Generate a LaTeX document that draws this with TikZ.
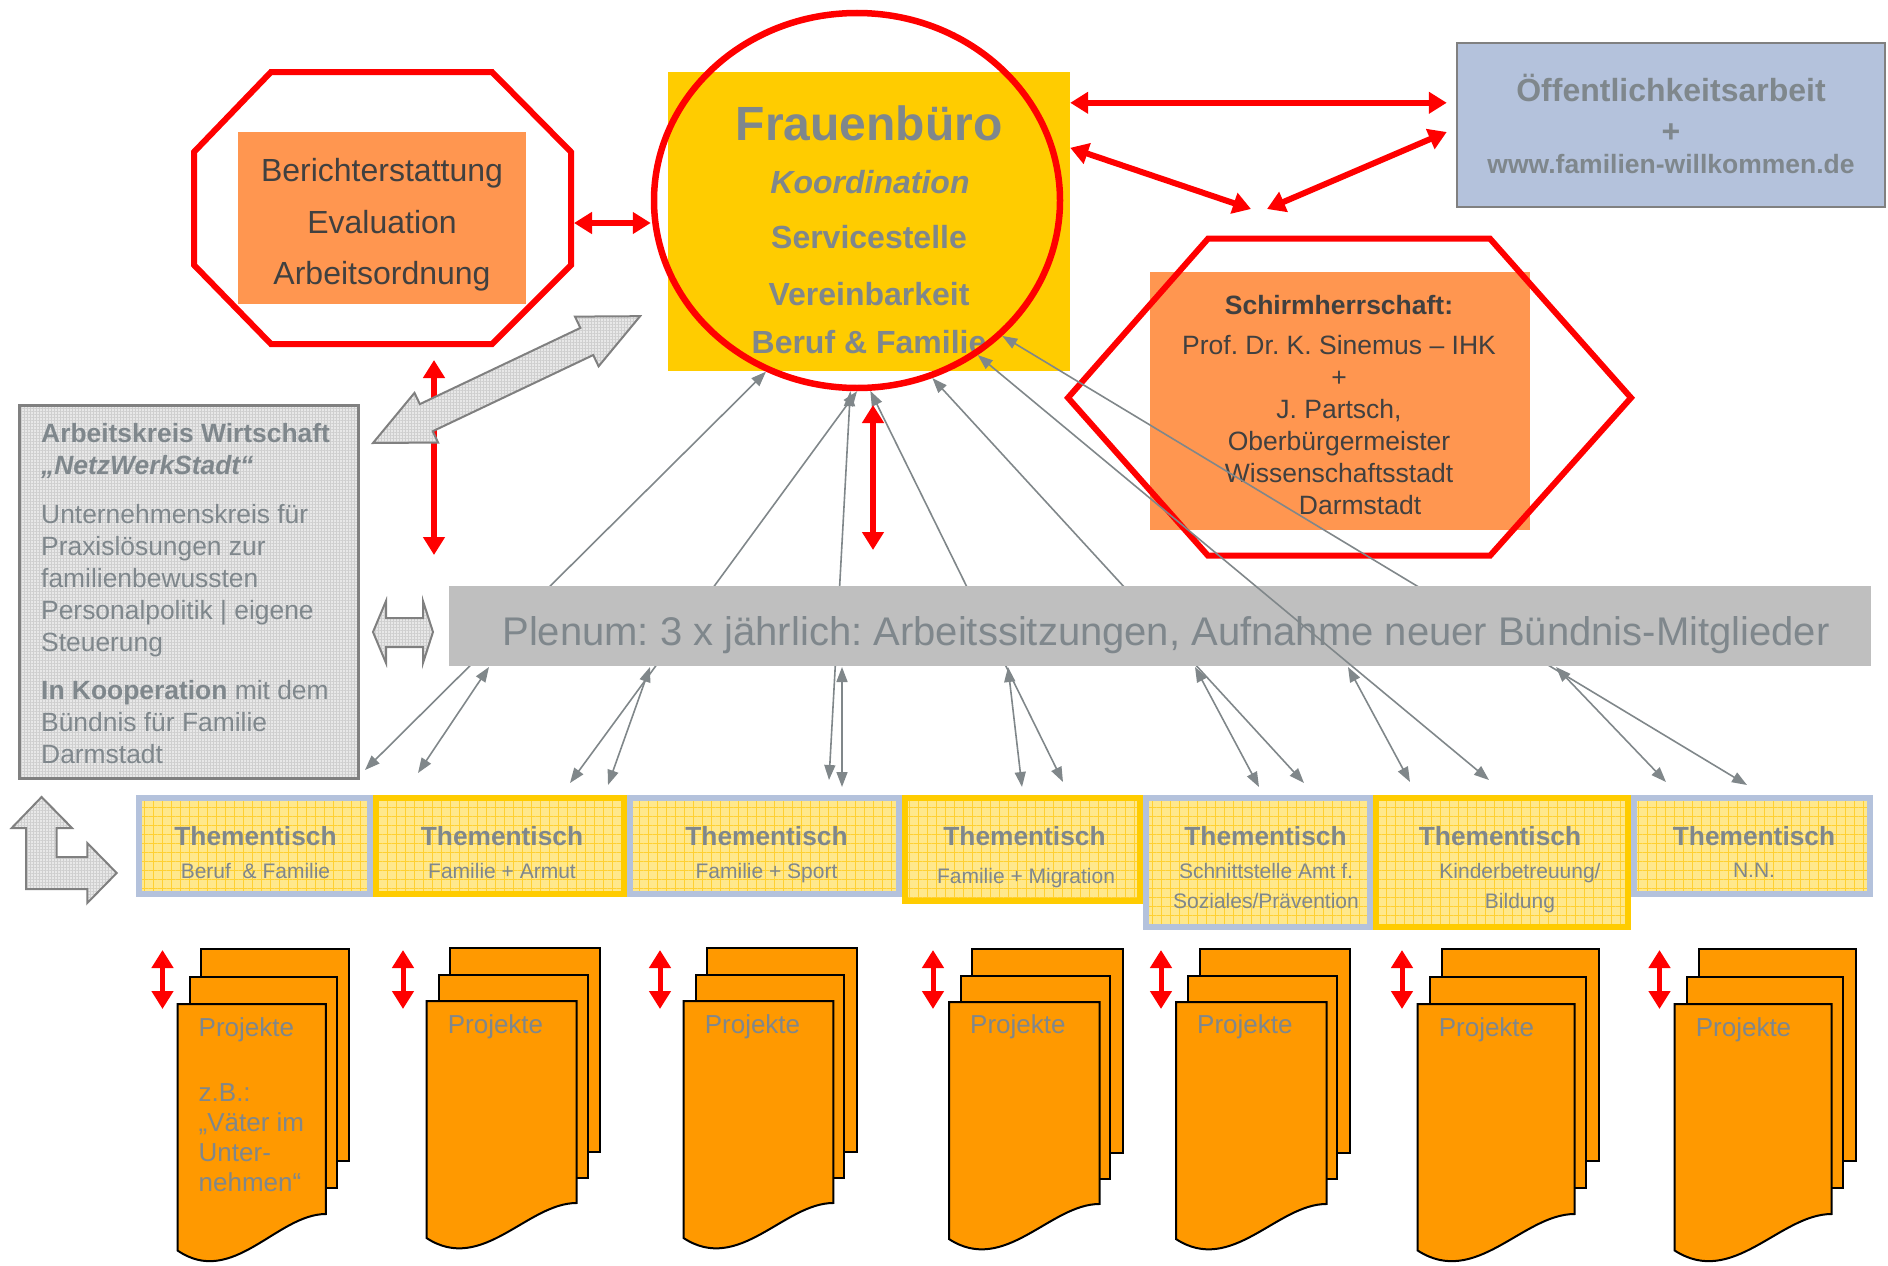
\documentclass[tikz,border=0pt]{standalone}
\usepackage{fontspec}
\setmainfont{Liberation Sans}
\usetikzlibrary{arrows.meta,shapes.geometric,patterns.meta}
\frenchspacing

\definecolor{txtgray}{RGB}{127,135,140}
\definecolor{darktxt}{RGB}{64,64,64}
\definecolor{fbyellow}{RGB}{255,204,0}
\definecolor{boxorange}{RGB}{255,150,80}
\definecolor{docorange}{RGB}{255,153,0}
\definecolor{lavender}{RGB}{180,194,220}
\definecolor{plgray}{RGB}{191,191,191}
\definecolor{tischfill}{RGB}{255,232,140}
\definecolor{tischgrid}{RGB}{255,208,50}
\definecolor{linegray}{RGB}{128,135,138}
\definecolor{framegray}{RGB}{128,128,128}

\begin{document}
\begin{tikzpicture}[x=1pt, y=-1pt,
  redarr/.style={red, line width=6pt, {Triangle[length=18pt,width=21pt]}-{Triangle[length=18pt,width=21pt]}},
  link/.style={linegray, line width=1.6pt, {Triangle[length=15pt,width=11pt]}-{Triangle[length=15pt,width=11pt]}},
  obox/.style={fill=boxorange, inner sep=0pt},
  texture/.style={preaction={fill=gray!18}, pattern={Hatch[distance=3pt,line width=0.5pt]}, pattern color=gray!38},
  blockarr/.style={texture, draw=framegray, line width=2pt},
  tisch/.style={preaction={fill=tischfill}, pattern={Hatch[distance=9pt,line width=0.8pt]}, pattern color=tischgrid, line width=6pt, inner sep=0pt, minimum height=96},
  thead/.style={txtgray, font=\fontsize{26.3}{30}\selectfont\bfseries, anchor=base, inner sep=0pt},
  tsub/.style={txtgray, font=\fontsize{21}{30}\selectfont, align=center, anchor=north, inner sep=0pt},
  fbline/.style={txtgray, font=\fontsize{32}{38}\selectfont\bfseries, anchor=base, inner sep=0pt},
  projtxt/.style={txtgray, font=\fontsize{26}{30}\selectfont, anchor=base west, inner sep=0pt},
  page/.style={fill=docorange, draw=black, line width=2pt}]
  \useasboundingbox (0,0) rectangle (1888,1266);

  % Berichterstattung
  \node[obox, minimum width=288, minimum height=172] (ber) at (382,218) {};
  \node[darktxt, font=\fontsize{32}{51.5}\selectfont, align=center, inner sep=0pt] (bertxt) at (382,225) {Berichterstattung\\Evaluation\\Arbeitsordnung};
  \draw[red, line width=6pt] (271,72) -- (492,72) -- (571,152) -- (571,265) -- (492,344) -- (271,344) -- (194,265) -- (194,152) -- cycle;
  \coordinate (oct) at (574,223);

  % Frauenbuero
  \node[fill=fbyellow, minimum width=402, minimum height=299, inner sep=0pt] (fb) at (869,221.5) {};
  \node[txtgray, font=\fontsize{48}{56}\selectfont\bfseries, anchor=base, inner sep=0pt] (fb1) at (869,140) {Frauenbüro};
  \node[fbline] (fb2) at (870,193) {\itshape Koordination};
  \node[fbline] (fb3) at (869,248) {Servicestelle};
  \node[fbline] (fb4) at (869,305) {Vereinbarkeit};
  \node[fbline] (fb5) at (869,353) {Beruf \& Familie};
  \node[draw=red, line width=6.5pt, ellipse, minimum width=406, minimum height=375, inner sep=0pt] (fbc) at (857,200.5) {};

  % Oeffentlichkeitsarbeit
  \node[fill=lavender, draw=framegray, line width=2.5pt, minimum width=428, minimum height=164, inner sep=0pt] (oa) at (1671,125) {};
  \node[txtgray, font=\fontsize{32}{38}\selectfont\bfseries, anchor=base, inner sep=0pt] (oa1) at (1671,101) {Öffentlichkeitsarbeit};
  \node[txtgray, font=\fontsize{32}{38}\selectfont\bfseries, anchor=base, inner sep=0pt] (oa2) at (1671,142) {+};
  \node[txtgray, font=\fontsize{26.5}{32}\selectfont\bfseries, anchor=base, inner sep=0pt] (oa3) at (1671,173) {www.familien-willkommen.de};

  % Schirmherrschaft
  \node[obox, minimum width=380, minimum height=258] (sh) at (1340,401) {};
  \node[darktxt, font=\fontsize{26.5}{32}\selectfont, align=center, anchor=north, inner sep=0pt] (shtxt) at (1339,295) {\textbf{Schirmherrschaft:}\\[8pt]Prof. Dr. K. Sinemus – IHK\\+\\J. Partsch,\\Oberbürgermeister\\Wissenschaftsstadt\\\hspace*{42pt}Darmstadt};
  \draw[red, line width=6pt] (1208,238.7) -- (1490,238.7) -- (1631,397.8) -- (1490,555.7) -- (1208,555.7) -- (1068,397.8) -- cycle;

  % Arbeitskreis
  \node[texture, draw=framegray, line width=3pt, minimum width=339, minimum height=373, inner sep=0pt] (ak) at (189,592) {};
  \node[txtgray, font=\fontsize{26.4}{32}\selectfont, align=left, anchor=north west, inner sep=0pt] (aktxt) at (41,423) {\textbf{Arbeitskreis Wirtschaft}\\\textbf{\textit{„NetzWerkStadt“}}\\[17pt]Unternehmenskreis für\\Praxislösungen zur\\familienbewussten\\Personalpolitik | eigene\\Steuerung\\[16pt]\textbf{In Kooperation} mit dem\\Bündnis für Familie\\Darmstadt};

  % Verbindungen
  \coordinate (a1) at (365,770); \coordinate (b1) at (418,773); \coordinate (c1) at (489,667);
  \coordinate (a2) at (570,783); \coordinate (b2) at (608,785); \coordinate (c2) at (650,667);
  \coordinate (a3) at (829,780); \coordinate (b3) at (842,787); \coordinate (c3) at (842,667);
  \coordinate (a4) at (1063,782); \coordinate (b4) at (1022,787); \coordinate (c4) at (1008,667);
  \coordinate (a5) at (1304,783); \coordinate (b5) at (1259,787); \coordinate (c5) at (1195,667);
  \coordinate (a6) at (1489,780); \coordinate (b6) at (1410,782); \coordinate (c6) at (1348,667);
  \coordinate (a7) at (1747,785); \coordinate (b7) at (1666,782); \coordinate (c7) at (1556,667);
  \draw[link] (a1) -- (fbc.242);
  \draw[link] (a2) -- (fbc.270);
  \draw[link] (a3) -- (fbc.268);
  \draw[link] (a4) -- (fbc.274);
  \draw[link] (a5) -- (fbc.293);
  \draw[link] (a7) -- (fbc.317);
  \foreach \i in {1,...,7}
    \draw[link] (b\i) -- (c\i);

  % Plenum
  \node[fill=plgray, minimum width=1422, minimum height=80, inner sep=0pt] (pl) at (1160,626) {};
  \node[txtgray, font=\fontsize{40}{48}\selectfont, anchor=base, inner sep=0pt] (pltxt) at (1166,645) {Plenum: 3 x jährlich: Arbeitssitzungen, Aufnahme neuer Bündnis-Mitglieder};
  \draw[link] (a6) -- (fbc.308);

  % Thementische
  \node[tisch, draw=lavender, minimum width=231] (t1) at (254.5,846) {};
  \node[tisch, draw=lavender, minimum width=269] (t3) at (764.5,846) {};
  \node[tisch, draw=lavender, minimum width=224, minimum height=129] (t5) at (1258,862.5) {};
  \node[tisch, draw=lavender, minimum width=236] (t7) at (1752,846) {};
  \node[tisch, draw=fbyellow, minimum width=248] (t2) at (500,846) {};
  \node[tisch, draw=fbyellow, minimum width=235, minimum height=103] (t4) at (1022.5,849.5) {};
  \node[tisch, draw=fbyellow, minimum width=252, minimum height=129] (t6) at (1502,862.5) {};
  \node[thead] (h1) at (255.5,845) {Thementisch};
  \node[thead] (h2) at (502,845) {Thementisch};
  \node[thead] (h3) at (766.5,845) {Thementisch};
  \node[thead] (h4) at (1024.5,845) {Thementisch};
  \node[thead] (h5) at (1265.5,845) {Thementisch};
  \node[thead] (h6) at (1500,845) {Thementisch};
  \node[thead] (h7) at (1754,845) {Thementisch};
  \node[tsub] (s1) at (255.5,862.7) {Beruf~ \& Familie};
  \node[tsub] (s2) at (502,862.7) {Familie + Armut};
  \node[tsub] (s3) at (766.5,862.7) {Familie + Sport};
  \node[tsub] (s4) at (1026,867.7) {Familie + Migration};
  \node[tsub] (s5) at (1266,862.7) {Schnittstelle Amt f.\\Soziales/Prävention};
  \node[tsub] (s6) at (1520,862.7) {Kinderbetreuung/\\Bildung};
  \node[tsub] (s7) at (1754,862.7) {N.N.};

  % Projekte
  \foreach \px/\py/\pw/\ph/\mx [count=\i] in {177.5/949/171.5/317/162.5, 426.6/948/173.5/305/403, 683.6/948/173.2/305/660, 949/949/174/305/933, 1176/949/174/305/1161, 1417.6/949/181.4/317/1402, 1674.6/949/181.4/317/1659.5}{
    \begin{scope}[shift={(\px,\py)}, x=\pw pt, y=-\ph pt]
      \draw[page] (0.135,0) rectangle (1,0.669);
      \draw[page] (0.070,0.0885) rectangle (0.928,0.754);
      \draw[page] (0,0.174) -- (0.865,0.174) -- (0.865,0.836) .. controls (0.58,0.836) and (0.32,1.07) .. (0,0.951) -- cycle;
    \end{scope}
    \coordinate (ma\i) at (\mx,950);
    \coordinate (mb\i) at (\mx,1009);
    \draw[redarr, line width=5pt] (ma\i) -- (mb\i);
  }
  \node[projtxt, anchor=north west, align=left] (pr1) at (198.5,1017) {Projekte\\[35pt]z.B.:\\„Väter im\\Unter-\\nehmen“};
  \node[projtxt] (pr2) at (447.6,1033) {Projekte};
  \node[projtxt] (pr3) at (704.6,1033) {Projekte};
  \node[projtxt] (pr4) at (970,1033) {Projekte};
  \node[projtxt] (pr5) at (1197,1033) {Projekte};
  \node[projtxt] (pr6) at (1438.6,1036) {Projekte};
  \node[projtxt] (pr7) at (1695.6,1036) {Projekte};

  % rote Pfeile
  \coordinate (r5a) at (434,360);
  \coordinate (r5b) at (434,555);
  \coordinate (r6a) at (873,405);
  \coordinate (r6b) at (873,550);
  \coordinate (sh1) at (1251,209);
  \coordinate (sh2) at (1267,209);
  \draw[redarr] (oct) -- (oct -| fbc.west);
  \draw[redarr] ([yshift=-31pt]fb.north east) -- ([yshift=-31pt,xshift=-9pt]fb.north east -| oa.west);
  \draw[redarr] ([yshift=-76pt]fb.north east) -- (sh1);
  \draw[redarr] (sh2) -- ([yshift=-7pt,xshift=-9pt]oa.west);
  \draw[redarr] (r5a) -- (r5b);
  \draw[redarr] (r6a) -- (r6b);

  % Blockpfeile
  \draw[blockarr] (41.6,797) -- (72,828) -- (56.7,828) -- (56.7,857) -- (87.3,857) -- (87.3,843) -- (116.7,873) -- (87.3,903) -- (87.3,889) -- (26,889) -- (26,828) -- (11.7,828) -- cycle;
  \draw[blockarr] (373,632) -- (386,601) -- (386,618) -- (423,618) -- (423,601) -- (433,632) -- (423,663) -- (423,647) -- (386,647) -- (386,663) -- cycle;
  \begin{scope}[shift={(373,443)}, rotate=25.4]
    \draw[blockarr] (0,0) -- (59,27.5) -- (59,15) -- (236.7,15) -- (236.7,27.5) -- (295.7,0) -- (236.7,-27.5) -- (236.7,-15) -- (59,-15) -- (59,-27.5) -- cycle;
  \end{scope}
\end{tikzpicture}
\end{document}
